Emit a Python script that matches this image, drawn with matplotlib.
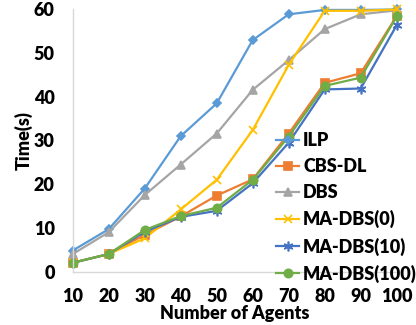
import matplotlib
matplotlib.use('Agg')
import matplotlib.pyplot as plt

plt.rcParams['font.family'] = ['Lato', 'DejaVu Sans']
plt.rcParams['font.weight'] = 'bold'

# data
agents = [10, 20, 30, 40, 50, 60, 70, 80, 90, 100]
ilp = [4.8, 9.7, 19.0, 31.0, 38.5, 53.0, 58.9, 59.9, 59.9, 60.0]
cbs_dl = [2.0, 4.0, 8.4, 12.6, 17.4, 21.1, 31.6, 43.2, 45.4, 58.5]
dbs = [4.0, 9.0, 17.5, 24.5, 31.6, 41.6, 48.4, 55.5, 58.9, 59.8]
ma_dbs_0 = [2.0, 4.0, 7.6, 14.2, 21.0, 32.4, 47.3, 59.7, 59.7, 60.0]
ma_dbs_10 = [2.0, 4.0, 9.1, 12.5, 13.9, 20.2, 29.5, 41.7, 41.9, 56.4]
ma_dbs_100 = [2.0, 4.0, 9.5, 12.7, 14.6, 21.0, 30.9, 42.5, 44.4, 58.4]

series = [
    ("ILP", ilp, '#5B9BD5', 'D', 4),
    ("CBS-DL", cbs_dl, '#ED7D31', 's', 6),
    ("DBS", dbs, '#A5A5A5', '^', 6),
    ("MA-DBS(0)", ma_dbs_0, '#FFC000', 'x', 6),
    ("MA-DBS(10)", ma_dbs_10, '#4472C4', (6, 2, 0), 7),
    ("MA-DBS(100)", ma_dbs_100, '#70AD47', 'o', 6),
]

fig = plt.figure(figsize=(4.16, 3.25), dpi=100)
ax = fig.add_axes([0.1748, 0.1646, 0.9536 - 0.1748, 0.9708 - 0.1646])

for name, vals, col, mk, ms in series:
    ax.plot(agents, vals, label=name, color=col, marker=mk, markersize=ms,
            linewidth=1.6, markeredgewidth=1.2, clip_on=False)

ax.set_xlim(10, 100)
ax.set_ylim(0, 60)
ax.set_xticks(agents)
ax.set_yticks([0, 10, 20, 30, 40, 50, 60])
ax.tick_params(length=0, labelsize=13, colors='black')
ax.tick_params(axis='x', pad=12)
ax.tick_params(axis='y', pad=13)
for lab in ax.get_xticklabels() + ax.get_yticklabels():
    lab.set_fontweight('heavy')

for s in ['top', 'right']:
    ax.spines[s].set_visible(False)
for s in ['left', 'bottom']:
    ax.spines[s].set_color('#D9D9D9')
    ax.spines[s].set_linewidth(1)

ax.set_xlabel('Number of Agents', fontsize=13, fontweight='heavy', labelpad=0)
ax.set_ylabel('Time(s)', fontsize=13, fontweight='heavy', labelpad=1)

leg = ax.legend(loc='upper left', bbox_to_anchor=(276 / 416, 1 - 132 / 325),
                bbox_transform=fig.transFigure, frameon=False, fontsize=13,
                handlelength=1.3, handletextpad=0.2, labelspacing=0.5,
                borderpad=0, borderaxespad=0)
for t in leg.get_texts():
    t.set_fontweight('heavy')

fig.savefig('out.png', dpi=100)
